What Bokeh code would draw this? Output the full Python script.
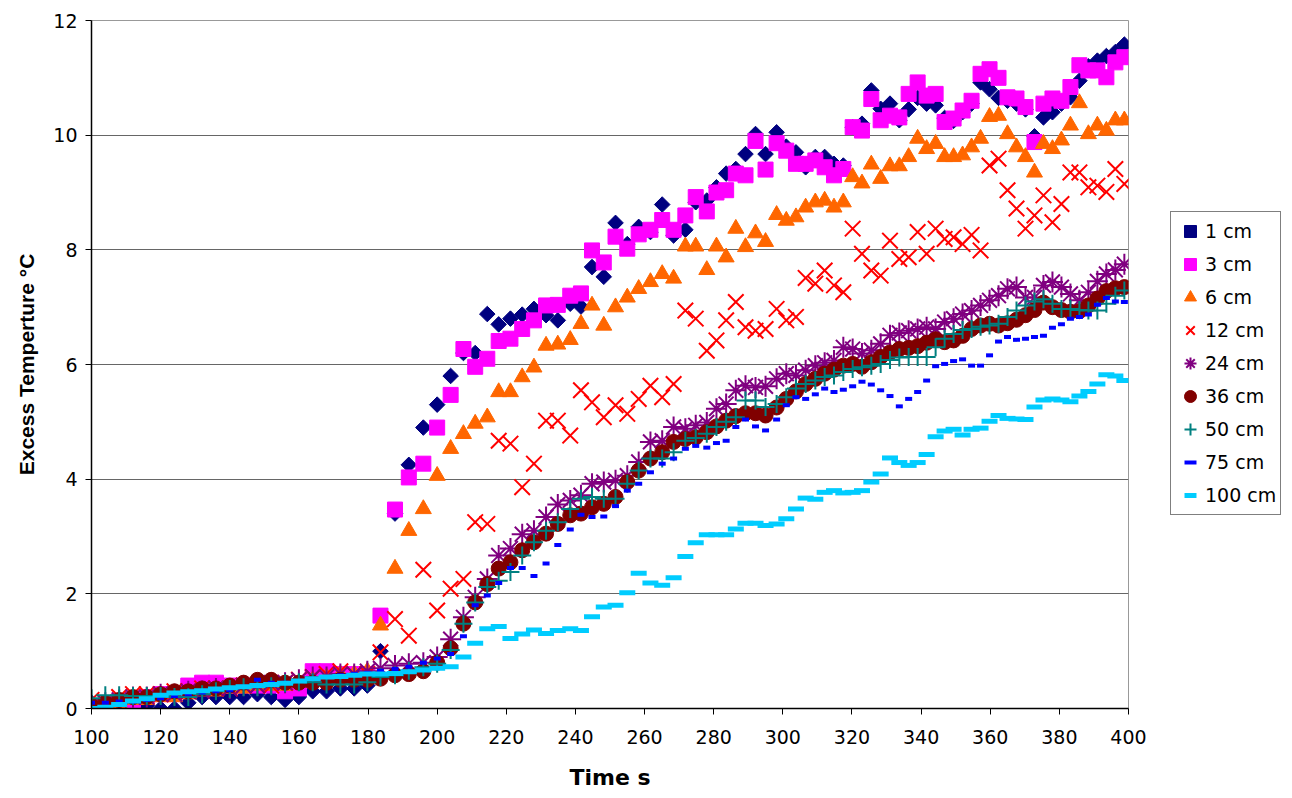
import math
from bokeh.plotting import figure
from bokeh.layouts import row
from bokeh.models import Legend, LegendItem
from bokeh.embed import file_html
from bokeh.resources import INLINE

FONT = "DejaVu Sans"
TITLE_FONT = "Liberation Sans"

# Sample times (s)
time_s = [100.0, 104.0, 108.0, 112.0, 116.0, 120.0, 124.0, 128.0, 132.0, 136.0,
          140.0, 144.0, 148.0, 152.0, 156.0, 160.0, 164.0, 168.0, 172.0, 176.0,
          179.8,
          183.6, 187.8, 191.8, 196.0, 200.0, 203.9, 207.6, 211.0, 214.5, 217.8,
          221.2, 224.6, 228.0, 231.5, 234.9, 238.5, 241.6, 244.8, 248.2, 251.6,
          255.0, 258.3, 261.7, 265.1, 268.4, 271.8, 274.8, 278.0, 280.8, 283.6,
          286.4, 289.2, 292.1, 295.0, 298.2, 301.0, 303.8, 306.6, 309.4, 312.1,
          314.8, 317.5, 320.2, 322.9, 325.6, 328.3, 331.0, 333.7, 336.4, 339.0,
          341.6, 344.2, 346.8, 349.4, 352.0, 354.6, 357.2, 359.8, 362.4, 365.0,
          367.6, 370.2, 372.8, 375.4, 378.0, 380.6, 383.2, 385.8, 388.4, 391.0,
          393.6, 396.2, 398.8]

# Excess temperature (degC) at each depth
temp_1cm = [0.10, 0.10, 0.15, 0.15, 0.05, 0.00, 0.00, 0.10, 0.20, 0.20,
            0.20, 0.20, 0.25, 0.20, 0.15, 0.20, 0.30, 0.30, 0.35, 0.35, 0.40,
            1.00, 3.40, 4.25, 4.90, 5.30, 5.80, 6.20, 6.20, 6.88, 6.70,
            6.80, 6.87, 6.97, 6.86, 6.77, 7.06, 7.01, 7.70, 7.53, 8.47,
            8.10, 8.40, 8.31, 8.79, 8.25, 8.35, 8.83, 8.86, 9.09, 9.33,
            9.41, 9.67, 10.02, 9.67, 10.05, 9.80, 9.70, 9.44, 9.62, 9.62,
            9.50, 9.47, 10.14, 10.20, 10.78, 10.46, 10.55, 10.26, 10.45, 10.65,
            10.55, 10.52, 10.30, 10.25, 10.40, 10.55, 10.92, 10.80, 10.65, 10.60,
            10.55, 10.45, 9.98, 10.31, 10.40, 10.55, 10.66, 10.95, 11.20, 11.30,
            11.38, 11.45, 11.58]

temp_3cm = [0.00, 0.00, 0.10, 0.15, 0.20, 0.25, 0.25, 0.40, 0.45, 0.45,
            0.40, 0.40, 0.40, 0.40, 0.30, 0.35, 0.65, 0.65, 0.60, 0.60, 0.60,
            1.62, 3.47, 4.03, 4.27, 4.90, 5.47, 6.27, 5.96, 6.10, 6.41,
            6.45, 6.62, 6.77, 7.03, 7.04, 7.20, 7.24, 7.99, 7.78, 8.23,
            8.02, 8.27, 8.35, 8.52, 8.35, 8.60, 8.92, 8.67, 9.00, 9.04,
            9.33, 9.30, 9.90, 9.40, 9.86, 9.73, 9.50, 9.50, 9.56, 9.44,
            9.30, 9.41, 10.14, 10.08, 10.63, 10.26, 10.34, 10.31, 10.72, 10.92,
            10.69, 10.72, 10.23, 10.29, 10.43, 10.60, 11.07, 11.15, 11.00, 10.66,
            10.64, 10.49, 9.88, 10.55, 10.64, 10.60, 10.84, 11.22, 11.13, 11.13,
            11.01, 11.27, 11.36]

temp_6cm = [0.00, 0.00, 0.10, 0.15, 0.15, 0.20, 0.20, 0.25, 0.30, 0.30,
            0.35, 0.35, 0.40, 0.40, 0.40, 0.45, 0.50, 0.55, 0.60, 0.60, 0.65,
            1.45, 2.44, 3.10, 3.48, 4.06, 4.53, 4.79, 4.97, 5.08, 5.52,
            5.52, 5.78, 5.95, 6.33, 6.35, 6.43, 6.71, 7.03, 6.68, 7.00,
            7.17, 7.32, 7.44, 7.58, 7.50, 8.06, 8.06, 7.65, 8.06, 7.87,
            8.37, 8.05, 8.29, 8.14, 8.61, 8.51, 8.57, 8.74, 8.83, 8.86,
            8.74, 8.83, 9.27, 9.16, 9.49, 9.24, 9.46, 9.46, 9.62, 9.94,
            9.76, 9.85, 9.62, 9.62, 9.65, 9.79, 9.94, 10.32, 10.34, 10.02,
            9.79, 9.62, 9.35, 9.85, 9.76, 9.91, 10.17, 10.56, 10.02, 10.17,
            10.08, 10.26, 10.26]

temp_12cm = [0.15, 0.10, 0.20, 0.25, 0.25, 0.25, 0.30, 0.30, 0.35, 0.35,
             0.35, 0.40, 0.40, 0.40, 0.45, 0.50, 0.55, 0.60, 0.65, 0.60, 0.60,
             0.98, 1.56, 1.27, 2.42, 1.71, 2.09, 2.26, 3.25, 3.22, 4.67,
             4.62, 3.86, 4.27, 5.02, 5.02, 4.76, 5.55, 5.34, 5.08, 5.29,
             5.14, 5.40, 5.63, 5.43, 5.66, 6.94, 6.80, 6.24, 6.42, 6.77,
             7.09, 6.65, 6.59, 6.62, 6.97, 6.77, 6.83, 7.51, 7.41, 7.64,
             7.38, 7.26, 8.37, 7.93, 7.64, 7.55, 8.16, 7.84, 7.87, 8.31,
             7.93, 8.37, 8.19, 8.22, 8.10, 8.26, 7.99, 9.47, 9.59, 9.04,
             8.72, 8.37, 8.60, 8.95, 8.48, 8.80, 9.35, 9.35, 9.09, 9.12,
             9.01, 9.41, 9.15]

temp_24cm = [0.05, 0.10, 0.15, 0.20, 0.20, 0.25, 0.25, 0.30, 0.30, 0.35,
             0.35, 0.40, 0.40, 0.45, 0.45, 0.50, 0.55, 0.55, 0.60, 0.60, 0.65,
             0.70, 0.75, 0.78, 0.80, 0.90, 1.21, 1.59, 1.94, 2.26, 2.67,
             2.79, 3.04, 3.10, 3.34, 3.56, 3.63, 3.72, 3.92, 3.95, 3.98,
             4.06, 4.30, 4.65, 4.67, 4.91, 4.88, 4.94, 4.99, 5.23, 5.31,
             5.55, 5.63, 5.60, 5.62, 5.75, 5.84, 5.81, 5.90, 5.98, 6.03,
             6.07, 6.30, 6.27, 6.19, 6.25, 6.36, 6.51, 6.55, 6.59, 6.62,
             6.65, 6.62, 6.74, 6.80, 6.88, 6.94, 7.03, 7.12, 7.20, 7.32,
             7.35, 7.17, 7.17, 7.38, 7.44, 7.35, 7.23, 7.12, 7.26, 7.45,
             7.58, 7.65, 7.75]

temp_36cm = [0.05, 0.10, 0.15, 0.20, 0.20, 0.25, 0.30, 0.30, 0.35, 0.35,
             0.40, 0.45, 0.50, 0.50, 0.45, 0.45, 0.45, 0.45, 0.50, 0.50, 0.50,
             0.52, 0.58, 0.60, 0.65, 0.80, 1.05, 1.48, 1.85, 2.17, 2.44,
             2.55, 2.76, 2.90, 3.05, 3.22, 3.37, 3.40, 3.51, 3.57, 3.69,
             3.95, 4.15, 4.36, 4.47, 4.65, 4.70, 4.73, 4.82, 4.92, 5.02,
             5.10, 5.15, 5.15, 5.11, 5.25, 5.40, 5.53, 5.66, 5.75, 5.84,
             5.91, 5.98, 6.01, 5.96, 6.04, 6.13, 6.21, 6.27, 6.29, 6.32,
             6.38, 6.44, 6.39, 6.42, 6.50, 6.62, 6.68, 6.71, 6.68, 6.72,
             6.78, 6.86, 6.95, 7.08, 7.00, 6.95, 6.92, 6.93, 7.03, 7.15,
             7.28, 7.33, 7.35]

temp_50cm = [0.18, 0.23, 0.23, 0.22, 0.22, 0.22, 0.20, 0.20, 0.25, 0.30,
             0.34, 0.37, 0.37, 0.39, 0.44, 0.46, 0.46, 0.42, 0.42, 0.42, 0.46,
             0.55, 0.58, 0.66, 0.72, 0.78, 1.02, 1.48, 1.85, 2.12, 2.23,
             2.38, 2.67, 2.90, 3.10, 3.25, 3.48, 3.66, 3.69, 3.66, 3.66,
             3.92, 4.15, 4.36, 4.36, 4.47, 4.67, 4.72, 4.79, 4.91, 5.00,
             5.08, 5.37, 5.37, 5.26, 5.31, 5.43, 5.58, 5.66, 5.72, 5.78,
             5.81, 5.87, 5.92, 5.95, 5.98, 6.01, 6.08, 6.12, 6.13, 6.13,
             6.13, 6.30, 6.45, 6.53, 6.60, 6.62, 6.66, 6.68, 6.71, 6.83,
             6.94, 7.03, 7.10, 7.14, 7.06, 6.97, 6.97, 6.95, 6.94, 6.94,
             7.06, 7.20, 7.29]

temp_75cm = [0.10, 0.10, 0.12, 0.12, 0.15, 0.18, 0.22, 0.25, 0.28, 0.30,
             0.32, 0.38, 0.50, 0.45, 0.45, 0.48, 0.52, 0.55, 0.58, 0.60, 0.62,
             0.66, 0.69, 0.73, 0.80, 0.87, 0.95, 1.26, 1.80, 1.97, 2.19,
             2.45, 2.45, 2.31, 2.53, 2.85, 3.12, 3.38, 3.34, 3.35, 3.53,
             3.80, 3.92, 4.12, 4.27, 4.36, 4.53, 4.58, 4.55, 4.63, 4.67,
             4.91, 5.04, 4.92, 4.85, 5.04, 5.29, 5.43, 5.40, 5.48, 5.58,
             5.52, 5.56, 5.62, 5.70, 5.65, 5.55, 5.45, 5.27, 5.40, 5.52,
             5.72, 5.97, 6.01, 6.06, 6.09, 5.98, 5.98, 6.16, 6.40, 6.48,
             6.43, 6.45, 6.48, 6.50, 6.64, 6.70, 6.80, 6.83, 6.87, 7.04,
             7.16, 7.10, 7.09]

temp_100cm = [0.00, 0.02, 0.07, 0.13, 0.17, 0.23, 0.27, 0.29, 0.31, 0.34,
              0.36, 0.38, 0.40, 0.42, 0.44, 0.48, 0.52, 0.55, 0.56, 0.58, 0.60,
              0.60, 0.61, 0.64, 0.67, 0.70, 0.73, 0.90, 1.14, 1.39, 1.43,
              1.22, 1.30, 1.37, 1.31, 1.36, 1.39, 1.36, 1.60, 1.77, 1.80,
              2.02, 2.36, 2.19, 2.15, 2.28, 2.65, 2.89, 3.03, 3.03, 3.03,
              3.13, 3.23, 3.23, 3.19, 3.22, 3.31, 3.48, 3.67, 3.65, 3.77,
              3.80, 3.76, 3.77, 3.80, 3.95, 4.09, 4.37, 4.29, 4.24, 4.29,
              4.43, 4.74, 4.84, 4.87, 4.77, 4.87, 4.89, 5.01, 5.11, 5.06,
              5.05, 5.04, 5.26, 5.38, 5.40, 5.38, 5.35, 5.45, 5.53, 5.66,
              5.82, 5.80, 5.72]

depth_labels = ["1 cm", "3 cm", "6 cm", "12 cm", "24 cm", "36 cm", "50 cm", "75 cm", "100 cm"]
x_ticks = [100, 120, 140, 160, 180, 200, 220, 240, 260, 280, 300, 320, 340, 360, 380, 400]
y_ticks = [0, 2, 4, 6, 8, 10, 12]

series = [temp_1cm, temp_3cm, temp_6cm, temp_12cm, temp_24cm,
          temp_36cm, temp_50cm, temp_75cm, temp_100cm]

# marker styling per depth
styles = [
    dict(marker="square", angle=math.pi / 4, size=11, fill_color="#000080", line_color="#000080", line_width=1),
    dict(marker="square", size=15, fill_color="#FF00FF", line_color="#FF00FF", line_width=1),
    dict(marker="triangle", size=16, fill_color="#FF6600", line_color="#FF6600", line_width=1),
    dict(marker="x", size=22, line_color="#FF0000", line_width=2),
    dict(marker="asterisk", size=21, line_color="#800080", line_width=2),
    dict(marker="circle", size=15, fill_color="#800000", line_color="#800000", line_width=1),
    dict(marker="cross", size=18, line_color="#008080", line_width=2),
    dict(marker="dash", size=7, line_color="#0000FF", line_width=4),
    dict(marker="dash", size=16, line_color="#00CCFF", line_width=5),
]

# main chart: plot area spans x = 91..1128 px, y = 20..708 px
p = figure(width=1148, height=798, x_range=(100, 400), y_range=(0, 12),
           output_backend="svg", toolbar_location=None,
           min_border_left=91, min_border_right=20, min_border_top=20, min_border_bottom=90)

p.background_fill_color = "white"
p.border_fill_color = "white"
p.outline_line_color = "#999999"
p.outline_line_width = 1

p.xgrid.grid_line_color = None
p.ygrid.grid_line_color = "#666666"
p.ygrid.grid_line_width = 1

for ax in (p.xaxis[0], p.yaxis[0]):
    ax.axis_line_color = "black"
    ax.axis_line_width = 1.5
    ax.major_tick_line_color = "black"
    ax.major_tick_out = 6
    ax.major_tick_in = 0
    ax.minor_tick_line_color = None
    ax.major_label_text_font = FONT
    ax.major_label_text_font_size = "19px"
    ax.major_label_text_color = "black"
    ax.axis_label_text_font_style = "bold"
    ax.axis_label_text_color = "black"

p.xaxis.ticker = x_ticks
p.yaxis.ticker = y_ticks
p.xaxis.major_label_standoff = 15
p.yaxis.major_label_standoff = 8

p.xaxis.axis_label = "Time s"
p.xaxis.axis_label_text_font = FONT
p.xaxis.axis_label_text_font_size = "22px"
p.xaxis.axis_label_standoff = 18

p.yaxis.axis_label = "Excess Temperture °C"
p.yaxis.axis_label_text_font = TITLE_FONT
p.yaxis.axis_label_text_font_size = "21px"
p.yaxis.axis_label_standoff = 12

for values, st in zip(series, styles):
    p.scatter(time_s, values, **st)

# side panel holding the legend, to the right of the plot area; its frame is
# aligned with the main plot area (y = 20..708 px)
side = figure(width=144, height=798, x_range=(0, 1), y_range=(0, 1),
              output_backend="svg", toolbar_location=None,
              min_border_left=0, min_border_right=0, min_border_top=0, min_border_bottom=0)
side.axis.visible = False
side.grid.grid_line_color = None
side.outline_line_color = None
side.background_fill_color = "white"
side.border_fill_color = "white"

# legend swatches: each proxy holds its series' first sample, which lies
# outside this panel's 0..1 ranges, so only the legend swatch is drawn
items = []
for label, values, st in zip(depth_labels, series, styles):
    r = side.scatter(x=[time_s[0]], y=[values[0] - 10], **st)
    items.append(LegendItem(label=label, renderers=[r]))

legend = Legend(items=items, location=(1170 - 1148, 708 - 515))
legend.label_text_font = FONT
legend.label_text_font_size = "19px"
legend.label_text_color = "black"
legend.border_line_color = "black"
legend.border_line_width = 1
legend.background_fill_color = "white"
legend.background_fill_alpha = 1
legend.glyph_width = 30
legend.glyph_height = 30
legend.label_height = 30
legend.label_standoff = 0
legend.spacing = 3
legend.padding = 4
legend.margin = 0
side.add_layout(legend, "center")

layout = row(p, side)
open("out.html", "w").write(file_html(layout, INLINE))
